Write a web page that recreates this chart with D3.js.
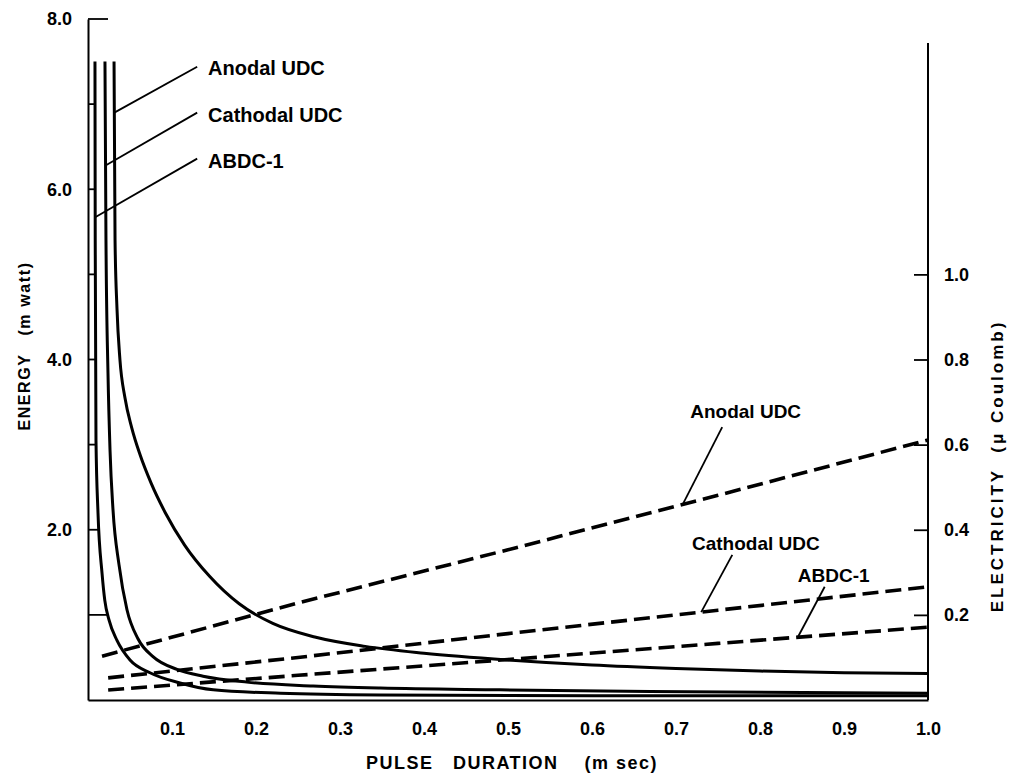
<!DOCTYPE html>
<html><head><meta charset="utf-8">
<script src="https://cdn.jsdelivr.net/npm/d3@7/dist/d3.min.js"></script>
<style>
body{margin:0;background:#fff}
svg text{font-family:"Liberation Sans",Arial,sans-serif;font-weight:bold;fill:#000}
</style></head><body>
<svg id="c" width="1013" height="779"></svg>
<script>
// ---------------- data ----------------
const durationTicks = [0.1,0.2,0.3,0.4,0.5,0.6,0.7,0.8,0.9,1.0];
const energyTicks = [1,2,3,4,5,6,7,8];
const energyLabelTicks = [2,4,6,8];
const electricityTicks = [0.2,0.4,0.6,0.8,1.0];
const seriesNames = ["Anodal UDC","Cathodal UDC","ABDC-1"];

// energy (m watt) vs pulse duration (m sec) – solid curves
const anodalEnergy = [[0.031,7.50],[0.0322,5.40],[0.0345,4.60],[0.038,4.00],[0.044,3.55],[0.052,3.20],[0.062,2.88],[0.075,2.55],[0.092,2.20],[0.115,1.82],[0.145,1.45],[0.18,1.13],[0.22,0.90],[0.27,0.74],[0.33,0.63],[0.40,0.55],[0.50,0.47],[0.60,0.41],[0.70,0.37],[0.80,0.34],[0.90,0.32],[1.0,0.31]];
const cathodalEnergy = [[0.0202,7.50],[0.0214,5.40],[0.0238,3.84],[0.0262,2.94],[0.0298,2.23],[0.0369,1.59],[0.0464,1.06],[0.0595,0.72],[0.0774,0.51],[0.106,0.36],[0.137,0.28],[0.189,0.21],[0.268,0.165],[0.348,0.14],[0.49,0.12],[0.669,0.10],[1.0,0.08]];
const abdcEnergy = [[0.0083,7.50],[0.0086,5.40],[0.0095,3.05],[0.0119,2.20],[0.0167,1.49],[0.020,1.17],[0.025,0.94],[0.0345,0.70],[0.050,0.47],[0.0738,0.32],[0.1095,0.20],[0.149,0.12],[0.229,0.08],[0.348,0.06],[0.61,0.05],[1.0,0.05]];

// electricity (micro Coulomb) vs pulse duration – dashed lines
const anodalCharge = [[0.0167,0.103],[0.25,0.228],[0.5,0.353],[0.75,0.481],[1.0,0.611]];
const cathodalCharge = [[0.024,0.052],[0.25,0.100],[0.5,0.156],[0.75,0.211],[1.0,0.266]];
const abdcCharge = [[0.024,0.0235],[0.25,0.058],[0.5,0.095],[0.75,0.133],[1.0,0.171]];

// annotation anchors (data coordinates)
const upperLabelT = 0.143;
const upperLabelE = [7.34, 6.79, 6.25];      // baselines
const upperLeaderStartT = 0.130;
const upperLeaderStartE = [7.44, 6.90, 6.36];
const upperLeaderEndE = [6.90, 6.28, 5.67];
const lowerLabelT = [0.717, 0.719, 0.845];
const lowerLabelQ = [0.663, 0.352, 0.277];
const lowerLeaderStart = [[0.755,0.641],[0.767,0.341],[0.877,0.266]];
const lowerLeaderEndT = [0.708, 0.730, 0.845];

// ---------------- layout ----------------
const svg = d3.select("#c");
const x = d3.scaleLinear().domain([0,1]).range([88,928]);
const yE = d3.scaleLinear().domain([0,8]).range([700,19]);
const yQ = d3.scaleLinear().domain([0,1.6]).range([700,19]);
const rightTop = 43;

function interpAt(series, t){
  for(let i=0;i<series.length-1;i++){
    const [t0,v0]=series[i],[t1,v1]=series[i+1];
    if(t>=t0 && t<=t1) return v0+(v1-v0)*(t-t0)/(t1-t0);
  }
  return series[series.length-1][1];
}
function tAtValue(series, v){
  for(let i=0;i<series.length-1;i++){
    const [t0,v0]=series[i],[t1,v1]=series[i+1];
    if((v<=v0 && v>=v1)) return t0+(t1-t0)*(v0-v)/(v0-v1);
  }
  return series[0][0];
}

const energySeries = [anodalEnergy, cathodalEnergy, abdcEnergy];
const chargeSeries = [anodalCharge, cathodalCharge, abdcCharge];

// left axis
const gL = svg.append("g").attr("transform",`translate(${x(0)},0)`);
gL.call(d3.axisLeft(yE).tickValues(energyLabelTicks).tickFormat(d3.format(".1f")).tickSize(0).tickSizeOuter(0).tickPadding(16));
gL.select(".domain").attr("stroke","#000").attr("stroke-width",2);
gL.selectAll(".tick text").attr("font-size",18).attr("font-family",null);
svg.append("g").selectAll("line").data(energyTicks).join("line")
  .attr("x1",x(0)).attr("y1",d=>yE(d)).attr("y2",d=>yE(d))
  .attr("x2",d=> d>=8 ? x(0)+20 : x(tAtValue(abdcEnergy,d)))
  .attr("stroke","#000").attr("stroke-width",1.8);

// bottom axis
const gB = svg.append("g").attr("transform",`translate(0,${yE(0)})`);
gB.call(d3.axisBottom(x).tickValues(durationTicks).tickFormat(d3.format(".1f")).tickSize(0).tickSizeOuter(0).tickPadding(22));
gB.select(".domain").attr("stroke","#000").attr("stroke-width",2);
gB.selectAll(".tick text").attr("font-size",18).attr("font-family",null);

// right axis
const gR = svg.append("g").attr("transform",`translate(${x(1)},0)`);
gR.call(d3.axisRight(yQ).tickValues(electricityTicks).tickFormat(d3.format(".1f")).tickSizeInner(-14).tickSizeOuter(0).tickPadding(16));
gR.select(".domain").remove();
gR.append("line").attr("x1",0).attr("x2",0).attr("y1",yQ(0)).attr("y2",rightTop).attr("stroke","#000").attr("stroke-width",2);
gR.selectAll(".tick line").attr("stroke","#000").attr("stroke-width",1.8);
gR.selectAll(".tick text").attr("font-size",18).attr("font-family",null);

// curves
const lineE = d3.line().x(d=>x(d[0])).y(d=>yE(d[1])).curve(d3.curveMonotoneX);
const lineQ = d3.line().x(d=>x(d[0])).y(d=>yQ(d[1]));
svg.append("g").selectAll("path").data(energySeries).join("path")
  .attr("d",lineE).attr("fill","none").attr("stroke","#000").attr("stroke-width",3);
svg.append("g").selectAll("path").data(chargeSeries).join("path")
  .attr("d",lineQ).attr("fill","none").attr("stroke","#000").attr("stroke-width",3.6)
  .attr("stroke-dasharray","16,7");

// upper annotations
const gU = svg.append("g");
seriesNames.forEach((name,i)=>{
  const endT = tAtValue(energySeries[i], upperLeaderEndE[i]);
  gU.append("line").attr("x1",x(upperLeaderStartT)).attr("y1",yE(upperLeaderStartE[i]))
    .attr("x2",x(endT)).attr("y2",yE(upperLeaderEndE[i]))
    .attr("stroke","#000").attr("stroke-width",1.8);
  gU.append("text").attr("x",x(upperLabelT)).attr("y",yE(upperLabelE[i]))
    .attr("font-size",20).text(name);
});
// lower annotations
const gD = svg.append("g");
seriesNames.forEach((name,i)=>{
  const endT = lowerLeaderEndT[i];
  gD.append("line").attr("x1",x(lowerLeaderStart[i][0])).attr("y1",yQ(lowerLeaderStart[i][1]))
    .attr("x2",x(endT)).attr("y2",yQ(interpAt(chargeSeries[i],endT)))
    .attr("stroke","#000").attr("stroke-width",1.8);
  gD.append("text").attr("x",x(lowerLabelT[i])).attr("y",yQ(lowerLabelQ[i]))
    .attr("font-size",19).text(name);
});

// axis titles
svg.append("text").attr("x",512).attr("y",769).attr("text-anchor","middle")
  .attr("font-size",18).style("letter-spacing","1.5px").style("white-space","pre")
  .text("PULSE   DURATION    (m sec)");
svg.append("text").attr("transform","translate(24,346) rotate(-90)").attr("text-anchor","middle")
  .attr("dominant-baseline","central").attr("font-size",16).style("letter-spacing","1.6px").style("white-space","pre")
  .text("ENERGY   (m watt)");
svg.append("text").attr("transform","translate(997,466) rotate(-90)").attr("text-anchor","middle")
  .attr("dominant-baseline","central").attr("font-size",17).style("letter-spacing","3px").style("white-space","pre")
  .text("ELECTRICITY  (μ Coulomb)");
</script>
</body></html>
